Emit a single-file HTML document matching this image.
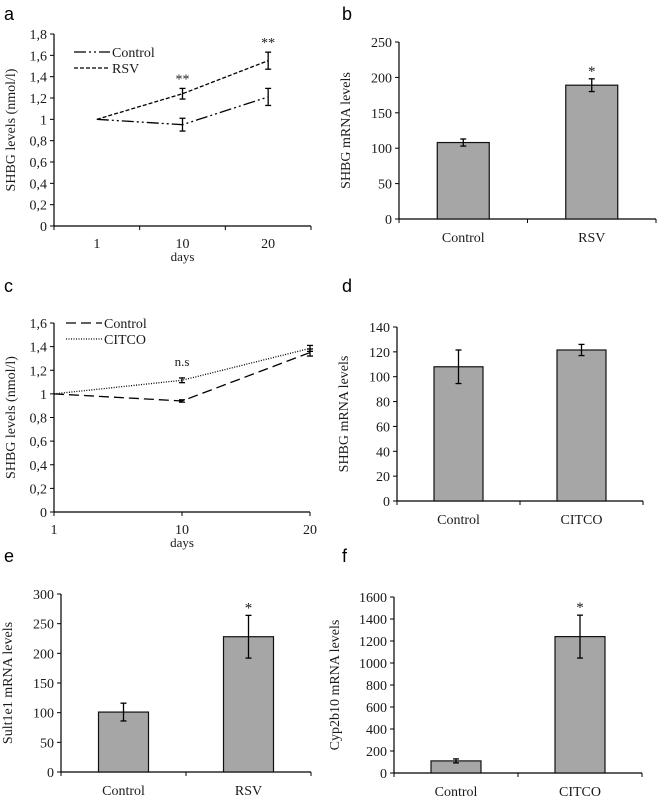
<!DOCTYPE html>
<html><head><meta charset="utf-8"><style>
html,body{margin:0;padding:0;background:#fff;}
svg{display:block;}
text{font-family:"Liberation Serif",serif;fill:#1a1a1a;}
.lt{font-family:"Liberation Sans",sans-serif;font-size:18px;fill:#000;}
</style></head><body>
<svg id="fig" width="660" height="800" viewBox="0 0 660 800" xmlns="http://www.w3.org/2000/svg">
<text class="lt" x="4" y="20">a</text>
<text class="lt" x="342" y="20">b</text>
<text class="lt" x="4" y="292">c</text>
<text class="lt" x="342" y="292">d</text>
<text class="lt" x="4" y="562">e</text>
<text class="lt" x="342" y="562">f</text>
</svg>
<script>
// Panel a
const aCats=["1","10","20"];
const aControl=[1,0.95,1.21];
const aControlErr=[0,0.06,0.08];
const aRSV=[1,1.24,1.55];
const aRSVErr=[0,0.05,0.08];
const aTicks=["0","0,2","0,4","0,6","0,8","1","1,2","1,4","1,6","1,8"];
const aSig=["","**","**"];
// Panel c
const cCats=["1","10","20"];
const cControl=[1,0.94,1.35];
const cControlErr=[0,0.01,0.03];
const cCITCO=[1,1.115,1.385];
const cCITCOErr=[0,0.02,0.025];
const cTicks=["0","0,2","0,4","0,6","0,8","1","1,2","1,4","1,6"];
// Panel b
const bCats=["Control","RSV"];
const bVals=[108,189];
const bErr=[5,9];
const bTicks=[0,50,100,150,200,250];
const bSig=["","*"];
// Panel d
const dCats=["Control","CITCO"];
const dVals=[108,121.5];
const dErr=[13.5,4.5];
const dTicks=[0,20,40,60,80,100,120,140];
// Panel e
const eCats=["Control","RSV"];
const eVals=[101,228];
const eErr=[15,36];
const eTicks=[0,50,100,150,200,250,300];
const eSig=["","*"];
// Panel f
const fCats=["Control","CITCO"];
const fVals=[110,1240];
const fErr=[18,195];
const fTicks=[0,200,400,600,800,1000,1200,1400,1600];
const fSig=["","*"];

const svg=document.getElementById('fig');
const NS="http://www.w3.org/2000/svg";
function mk(tag,attrs,parent){const e=document.createElementNS(NS,tag);for(const k in attrs)e.setAttribute(k,attrs[k]);(parent||svg).appendChild(e);return e;}
function txt(x,y,s,size,anchor,parent){const t=mk('text',{x:x,y:y,'font-size':size,'text-anchor':anchor||'middle'},parent);t.textContent=s;return t;}

function axes(g,x0,x1,y0,y1,ticks,tmax,nCats,catsAtEdges,ytitle,ytx){
  const ys=v=>y0-(v/tmax)*(y0-y1);
  const ax=mk('line',{x1:x0,y1:y0,x2:x0,y2:y1,stroke:'#000','stroke-width':1.2},g);
  
  const bx=mk('line',{x1:x0,y1:y0,x2:x1,y2:y0,stroke:'#000','stroke-width':1.2},g);
  
  ticks.forEach((t,i)=>{
    const v=tmax*i/(ticks.length-1);const y=ys(v);
    mk('line',{x1:x0-4,y1:y,x2:x0,y2:y,stroke:'#000'},g);
    const tl=txt(x0-7,y+5,String(t),14,'end',g);
    
  });
  if(!catsAtEdges){for(let i=0;i<=nCats;i++){const x=x0+(x1-x0)*i/nCats;mk('line',{x1:x,y1:y0,x2:x,y2:y0+4,stroke:'#000'},g);}}
  else{for(let i=0;i<nCats;i++){const x=x0+(x1-x0)*i/(nCats-1);mk('line',{x1:x,y1:y0,x2:x,y2:y0+4,stroke:'#000'},g);}}
  const yt=txt(0,0,ytitle,14,'middle',g);
  yt.setAttribute('transform','translate('+ytx+','+((y0+y1)/2)+') rotate(-90)');
  
  return ys;
}
function errbar(g,x,yl,yh,w){mk('line',{x1:x,y1:yl,x2:x,y2:yh,stroke:'#000','stroke-width':1.3},g);mk('line',{x1:x-w,y1:yl,x2:x+w,y2:yl,stroke:'#000','stroke-width':1.3},g);mk('line',{x1:x-w,y1:yh,x2:x+w,y2:yh,stroke:'#000','stroke-width':1.3},g);}

function barChart(name,x0,x1,y0,y1,ticks,cats,vals,err,sig,ytitle,ytx,barW){
  const g=mk('g',{});
  const tmax=ticks[ticks.length-1];
  const ys=axes(g,x0,x1,y0,y1,ticks,tmax,cats.length,false,ytitle,ytx);
  const xs=i=>x0+(x1-x0)*(i+0.5)/cats.length;
  cats.forEach((c,i)=>{
    const r=mk('rect',{x:xs(i)-barW/2,y:ys(vals[i]),width:barW,height:y0-ys(vals[i]),fill:'#a6a6a6',stroke:'#111','stroke-width':1.2},g);
    
    errbar(g,xs(i),ys(vals[i]-err[i]),ys(vals[i]+err[i]),3);
    if(sig&&sig[i]){const s=txt(xs(i),ys(vals[i]+err[i])-3,sig[i],15,'middle',g);}
    const l=txt(xs(i),y0+23,c,14,'middle',g);
  });
}

function lineChart(name,x0,x1,y0,y1,ticks,tmax,cats,edges,series,legendX,legendY,sig,sigText){
  const g=mk('g',{});
  const ys=axes(g,x0,x1,y0,y1,ticks,tmax,cats.length,edges,'SHBG levels (nmol/l)',15);
  const xs=edges?(i=>x0+(x1-x0)*i/(cats.length-1)):(i=>x0+(x1-x0)*(i+0.5)/cats.length);
  cats.forEach((c,i)=>{const l=txt(xs(i),y0+22,c,14,'middle',g);});
  const dl=txt(xs(1),y0+35,'days',13,'middle',g);
  series.forEach((s,k)=>{
    const pts=s.vals.map((v,i)=>xs(i)+','+ys(v)).join(' ');
    const p=mk('polyline',{points:pts,fill:'none',stroke:'#000','stroke-width':1.3,'stroke-dasharray':s.dash},g);
    
    s.vals.forEach((v,i)=>{if(s.err[i]>0)errbar(g,xs(i),ys(v-s.err[i]),ys(v+s.err[i]),3);});
    const ly=legendY+k*16;
    mk('line',{x1:legendX,y1:ly,x2:legendX+36,y2:ly,stroke:'#000','stroke-width':1.3,'stroke-dasharray':s.dash},g);
    const lt=txt(legendX+38,ly+5,s.name,14,'start',g);
  });
  if(sig){sig.forEach((t,i)=>{if(t){const top=Math.max(...series.map(s=>s.vals[i]+s.err[i]));const s=txt(xs(i),ys(top)-5,t,14,'middle',g);}});}
  if(sigText){const s=txt(xs(1),ys(cCITCO[1]+cCITCOErr[1])-12,sigText,13,'middle',g);}
}

lineChart('chart-a',54,311,226,34,aTicks,1.8,aCats,false,
  [{name:'Control',vals:aControl,err:aControlErr,dash:'12 3 2 3 2 3'},{name:'RSV',vals:aRSV,err:aRSVErr,dash:'4 2'}],74,52,aSig,null);
lineChart('chart-c',54,310,512,323,cTicks,1.6,cCats,true,
  [{name:'Control',vals:cControl,err:cControlErr,dash:'10 5'},{name:'CITCO',vals:cCITCO,err:cCITCOErr,dash:'1 1.5'}],66,323,null,'n.s');
barChart('chart-b',399,656,219,42,bTicks,bCats,bVals,bErr,bSig,'SHBG mRNA levels',350,52);
barChart('chart-d',397,643,501,327,dTicks,dCats,dVals,dErr,null,'SHBG mRNA levels',348,49);
barChart('chart-e',61,311,772,594,eTicks,eCats,eVals,eErr,eSig,'Sult1e1 mRNA levels',12,50);
barChart('chart-f',394,642,773,597,fTicks,fCats,fVals,fErr,fSig,'Cyp2b10 mRNA levels',339,50);
</script>
</body></html>
